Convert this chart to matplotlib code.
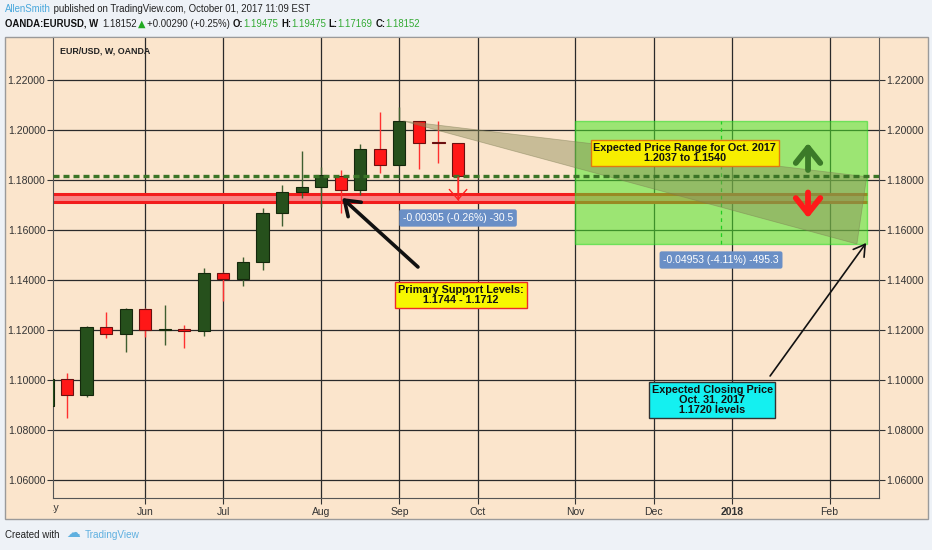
import matplotlib
matplotlib.use('Agg')
import matplotlib.pyplot as plt
import numpy as np
from matplotlib.patches import Rectangle, Polygon
from matplotlib.ticker import FormatStrFormatter
from matplotlib.transforms import Bbox, TransformedBbox

SANS = 'Liberation Sans'
plt.rcParams['font.family'] = SANS

# weekly EUR/USD bars, index 0 = week of 8 May 2017 (bar -1 is cut off at the left)
weeks = np.arange(-1, 21)
opens = [1.0895, 1.1003, 1.0939, 1.1211, 1.1183, 1.1285, 1.1200, 1.1203, 1.1198, 1.1427, 1.1405,
         1.1471, 1.1667, 1.1751, 1.1773, 1.1816, 1.1760, 1.1923, 1.1860, 1.2036, 1.1950, 1.19475]
highs = [1.1010, 1.1029, 1.1217, 1.1273, 1.1287, 1.1288, 1.1300, 1.1220, 1.1447, 1.1433, 1.1493,
         1.1687, 1.1780, 1.1916, 1.1851, 1.1840, 1.1944, 1.2073, 1.2093, 1.2037, 1.2036, 1.19475]
lows = [1.0890, 1.0848, 1.0931, 1.1167, 1.1113, 1.1173, 1.1140, 1.1127, 1.1177, 1.1317, 1.1376,
        1.1440, 1.1617, 1.1727, 1.1693, 1.1667, 1.1740, 1.1827, 1.1856, 1.1843, 1.1867, 1.17169]
closes = [1.1003, 1.0939, 1.1211, 1.1183, 1.1285, 1.1200, 1.1203, 1.1198, 1.1427, 1.1405, 1.1471,
          1.1667, 1.1751, 1.1773, 1.1820, 1.1760, 1.1923, 1.1860, 1.2036, 1.1949, 1.1948, 1.18152]

month_pos = [-0.9, 4, 8, 13, 17, 21, 26, 30, 34, 39]
month_labels = ['May', 'Jun', 'Jul', 'Aug', 'Sep', 'Oct', 'Nov', 'Dec', '2018', 'Feb']
price_ticks = [1.06, 1.08, 1.10, 1.12, 1.14, 1.16, 1.18, 1.20, 1.22]

support_hi, support_lo = 1.1744, 1.1713
range_top, range_bottom = 1.2037, 1.1545
range_start, range_end = 26.0, 40.9
measure_week = 33.45
fan_weeks = [17.2, 40.9, 40.4]
fan_prices = [1.2036, 1.1813, 1.1544]

# annotation anchors (week index, price)
support_arrow = [(17.95, 1.1452), (14.07, 1.1728)]
close_arrow = [(35.96, 1.1016), (40.87, 1.1548)]
up_arrow = [(37.9, 1.1840), (37.9, 1.1948)]
down_arrow = [(37.9, 1.1750), (37.9, 1.1648)]
drop_arrow = [(20.0, 1.1812), (20.0, 1.1718)]

PEACH = '#fbe5cc'
GREEN = '#26501c'
RED = '#ff1717'

fig = plt.figure(figsize=(9.32, 5.5), dpi=100, facecolor='#eef2f7')
bg = fig.add_axes([0, 0, 1, 1], zorder=-5)
bg.set_xlim(0, 932)
bg.set_ylim(550, 0)
bg.axis('off')
bg.add_patch(Rectangle((5, 37), 923, 482, facecolor=PEACH, edgecolor='#9a9a9a', lw=1))

ax = fig.add_axes([53 / 932, 1 - 498 / 550, 826 / 932, 461 / 550], facecolor=PEACH)
ax.set_xlim(-0.716, 41.53)
ax.set_ylim(1.0528, 1.2372)

# candles
o = np.array(opens)
c = np.array(closes)
up = c >= o
ax.vlines(weeks, lows, highs, colors=np.where(up, '#3e5e30', '#ff3030'), lw=1, zorder=3)
ax.bar(weeks, np.maximum(np.abs(c - o), 0.00025), bottom=np.minimum(o, c), width=0.62,
       color=np.where(up, GREEN, RED), edgecolor=np.where(up, '#14280c', '#6a1010'), lw=0.8, zorder=4)

# support band
ax.fill_between([-2, range_end], support_lo, support_hi, color='#f78686', lw=0, zorder=2)
ax.hlines([support_hi, support_lo], -2, range_end, color='#f21c1c', lw=2.2, zorder=2.5)

# expected range box + measure
ax.add_patch(Rectangle((range_start, range_bottom), range_end - range_start, range_top - range_bottom,
                       facecolor='#4ee62a', alpha=0.55, edgecolor='#22dd22', lw=1, zorder=5))
ax.vlines(measure_week, range_bottom, range_top, colors='#22cc22', lw=0.9, linestyles=(0, (3, 3)), zorder=6)
ax.add_patch(Polygon(list(zip(fan_weeks, fan_prices)), closed=True, facecolor='#8a8a58', alpha=0.45,
                     edgecolor='#7a7a50', lw=0.6, zorder=9.5))

# last price line
ax.axhline(closes[-1], color='#3a7426', lw=2.4, ls=(0, (1.8, 1.2)), zorder=10)

# arrows
ax.annotate('', xy=up_arrow[1], xytext=up_arrow[0],
            arrowprops=dict(arrowstyle='->,head_length=0.5,head_width=0.4', lw=4.2, color='#3b7a28',
                            mutation_scale=22, shrinkA=0, shrinkB=0, capstyle='round', joinstyle='round'),
            zorder=11)
ax.annotate('', xy=down_arrow[1], xytext=down_arrow[0],
            arrowprops=dict(arrowstyle='->,head_length=0.5,head_width=0.4', lw=4.2, color='#ff1a1a',
                            mutation_scale=22, shrinkA=0, shrinkB=0, capstyle='round', joinstyle='round'),
            zorder=11)
ax.annotate('', xy=support_arrow[1], xytext=support_arrow[0],
            arrowprops=dict(arrowstyle='->,head_length=0.5,head_width=0.35', lw=2.6, color='#111111',
                            mutation_scale=20, shrinkA=0, shrinkB=0), zorder=11)
ax.annotate('', xy=close_arrow[1], xytext=close_arrow[0],
            arrowprops=dict(arrowstyle='->,head_length=0.5,head_width=0.3', lw=1.2, color='#111111',
                            mutation_scale=16, shrinkA=0, shrinkB=0), zorder=11)
ax.annotate('', xy=drop_arrow[1], xytext=drop_arrow[0],
            arrowprops=dict(arrowstyle='->,head_length=0.4,head_width=0.35', lw=1.0, color='#ff2020',
                            mutation_scale=18, shrinkA=0, shrinkB=0), zorder=11)

# labels
ax.text(20.0, 1.1648, '-0.00305 (-0.26%) -30.5', ha='center', va='center', color='white', fontsize=7.5,
        bbox=dict(boxstyle='round,pad=0.35,rounding_size=0.2', fc='#6a8fc6', ec='none'), zorder=11)
ax.text(33.45, 1.1480, '-0.04953 (-4.11%) -495.3', ha='center', va='center', color='white', fontsize=7.5,
        bbox=dict(boxstyle='round,pad=0.35,rounding_size=0.2', fc='#6a8fc6', ec='none'), zorder=11)
note = dict(ha='center', va='center', fontsize=7.8, fontweight='bold', linespacing=1.05, color='#111111',
            zorder=10.5)
ax.text(31.6, 1.1908, 'Expected Price Range for Oct. 2017\n1.2037 to 1.1540',
        bbox=dict(boxstyle='square,pad=0.25', fc='#f7ee00', ec='#e07a10', lw=1), **note)
ax.text(20.15, 1.1340, 'Primary Support Levels:\n1.1744 - 1.1712',
        bbox=dict(boxstyle='square,pad=0.25', fc='#f7f700', ec='#ee2a2a', lw=1), **note)
ax.text(33.0, 1.0920, 'Expected Closing Price\nOct. 31, 2017\n1.1720 levels',
        bbox=dict(boxstyle='square,pad=0.25', fc='#14f0f0', ec='#333333', lw=1), **note)
ax.text(0.009, 0.9696, 'EUR/USD, W, OANDA', transform=ax.transAxes, fontsize=6.4, fontweight='bold',
        color='#222222', va='center')

# axes styling
ax.set_yticks(price_ticks)
ax.yaxis.set_major_formatter(FormatStrFormatter('%.5f'))
ax.set_xticks(month_pos[1:])
ax.set_xticklabels(month_labels[1:])
for lab in ax.get_xticklabels():
    if lab.get_text() == '2018':
        lab.set_fontweight('bold')
ax.tick_params(axis='y', left=True, right=True, labelleft=True, labelright=True, direction='out',
               length=4, width=0.8, color='#333333', labelsize=7.5, labelcolor='#333333', pad=1.5)
ax.tick_params(axis='x', direction='out', length=4, width=0.8, color='#333333', labelsize=7.5,
               labelcolor='#333333', pad=2.5)
ax.grid(color='#2a2a2a', lw=0.9)
ax.set_axisbelow(True)
for side in ['left', 'bottom', 'right']:
    ax.spines[side].set_color('#555555')
ax.spines['top'].set_color('#9a9a9a')

# the May label is cut at the left edge of the plot
may = ax.text(month_pos[0], -0.0115, month_labels[0], transform=ax.get_xaxis_transform(), ha='center',
              va='top', fontsize=7.5, color='#333333', clip_on=True)
may.set_clip_box(TransformedBbox(Bbox([[0, -1], [1, 1]]), ax.transAxes))

# header
hdr = dict(fontsize=6.9, va='bottom')
t = bg.text(5, 14, 'AllenSmith', color='#4aa8dc', **hdr)
bg.annotate(' published on TradingView.com, October 01, 2017 11:09 EST', xy=(1, 0), xycoords=t,
            color='#222222', **hdr)
parts = [('OANDA:EURUSD, W', '#111111', 'bold', 0), ('1.18152', '#222222', 'normal', 3),
         ('\u25B2', '#22aa22', 'normal', 1), ('+0.00290 (+0.25%)', '#222222', 'normal', 1),
         ('O:', '#111111', 'bold', 2), ('1.19475', '#33aa33', 'normal', 0),
         ('H:', '#111111', 'bold', 2), ('1.19475', '#33aa33', 'normal', 0),
         ('L:', '#111111', 'bold', 2), ('1.17169', '#33aa33', 'normal', 0),
         ('C:', '#111111', 'bold', 2), ('1.18152', '#33aa33', 'normal', 0)]
prev = None
for s, col, w, gap in parts:
    fam = ['DejaVu Sans'] if s == '\u25B2' else [SANS]
    size = 7 if s == '\u25B2' else 6.9
    if prev is None:
        prev = bg.text(5, 29, s, color=col, fontweight=w, fontsize=size, family=fam, va='bottom')
    else:
        prev = bg.annotate(s, xy=(1, 0), xycoords=prev, xytext=(gap, 0), textcoords='offset points',
                           color=col, fontweight=w, fontsize=size, family=fam, va='bottom')

# footer
f1 = bg.text(5, 540, 'Created with', color='#222222', fontsize=7, va='bottom')
f2 = bg.annotate('\u2601', xy=(1, 0), xycoords=f1, xytext=(5, 0), textcoords='offset points',
                 color='#5fb0e0', fontsize=10, family='DejaVu Sans', va='bottom')
bg.annotate('TradingView', xy=(1, 0), xycoords=f2, xytext=(3, 0), textcoords='offset points',
            color='#5fb0e0', fontsize=7.2, va='bottom')

fig.savefig('out.png', dpi=100, facecolor=fig.get_facecolor())
